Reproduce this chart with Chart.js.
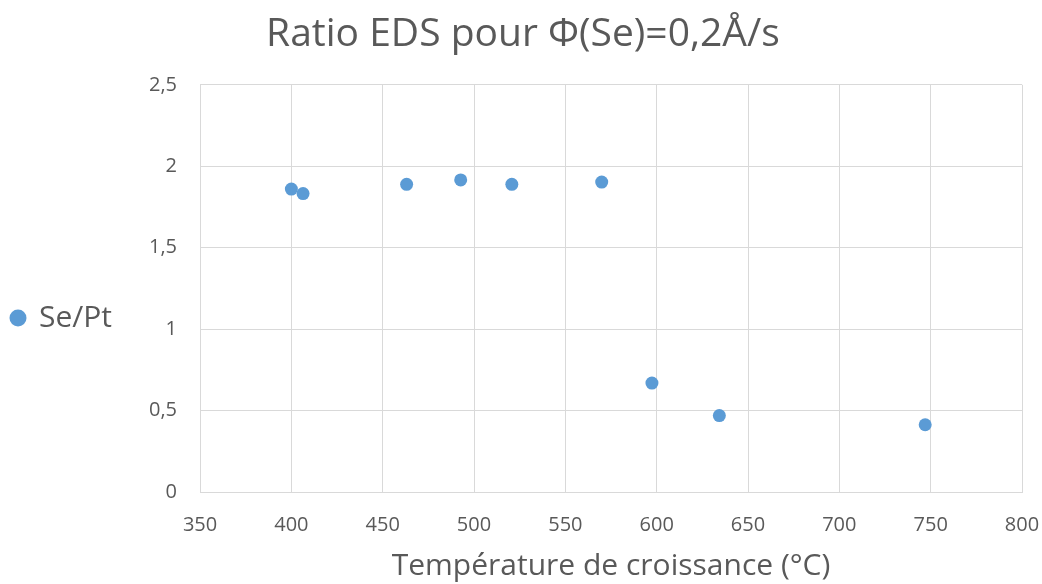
<!DOCTYPE html>
<html>
<head>
<meta charset="utf-8">
<script src="https://cdn.jsdelivr.net/npm/chart.js@4"></script>
<style>
html,body{margin:0;padding:0;background:#fff;}
#wrap{width:1042px;height:584px;}
</style>
</head>
<body>
<div id="wrap"><canvas id="c" width="1042" height="584"></canvas></div>
<script>
const temperatures = [400, 406.4, 463.1, 492.7, 520.7, 569.9, 597.4, 634.3, 747];
const ratioSePt = [1.86, 1.832, 1.889, 1.916, 1.889, 1.903, 0.669, 0.469, 0.413];
const seriesName = 'Se/Pt';
const chartTitle = 'Ratio EDS pour Φ(Se)=0,2Å/s';
const xTitle = 'Température de croissance (°C)';

const FONT = "'Open Sans', 'Liberation Sans', sans-serif";
const GRAY = '#595959';
const GRID = '#d9d9d9';

new Chart(document.getElementById('c'), {
  type: 'scatter',
  data: {
    datasets: [{
      label: seriesName,
      data: temperatures.map((t, i) => ({x: t, y: ratioSePt[i]})),
      backgroundColor: '#5b9bd5',
      borderColor: '#5b9bd5',
      pointRadius: 6.5,
      pointHoverRadius: 6.5,
      borderWidth: 0
    }]
  },
  options: {
    responsive: false,
    animation: false,
    layout: {padding: {top: 11, right: 0, bottom: 0, left: 4}},
    plugins: {
      title: {
        display: true, text: chartTitle, color: GRAY,
        font: {family: FONT, size: 39, weight: 'normal'},
        padding: {top: 0, bottom: 27}
      },
      legend: {
        position: 'left',
        title: {display: true, text: '', font: {size: 1}, padding: {top: 0, bottom: 40}},
        labels: {
          usePointStyle: true, pointStyle: 'circle', boxWidth: 12, boxHeight: 12,
          color: GRAY, font: {family: FONT, size: 30}, padding: 8
        }
      },
      tooltip: {enabled: false}
    },
    scales: {
      x: {
        type: 'linear', min: 350, max: 800,
        ticks: {stepSize: 50, color: GRAY, font: {family: FONT, size: 20}, padding: 21},
        grid: {color: GRID, lineWidth: 1, drawTicks: false},
        border: {color: GRID},
        title: {display: true, text: xTitle, color: GRAY, font: {family: FONT, size: 30}, padding: {top: 12, bottom: 0}},
        afterFit: s => { s.height = 92; s.paddingRight = 20; s.paddingLeft = 0; }
      },
      y: {
        min: 0, max: 2.5,
        ticks: {stepSize: 0.5, color: GRAY, font: {family: FONT, size: 20}, padding: 23,
          callback: v => String(v).replace('.', ',')},
        grid: {color: GRID, lineWidth: 1, drawTicks: false},
        border: {display: false},
        afterFit: s => { s.width = 78; }
      }
    }
  }
});
</script>
</body>
</html>
